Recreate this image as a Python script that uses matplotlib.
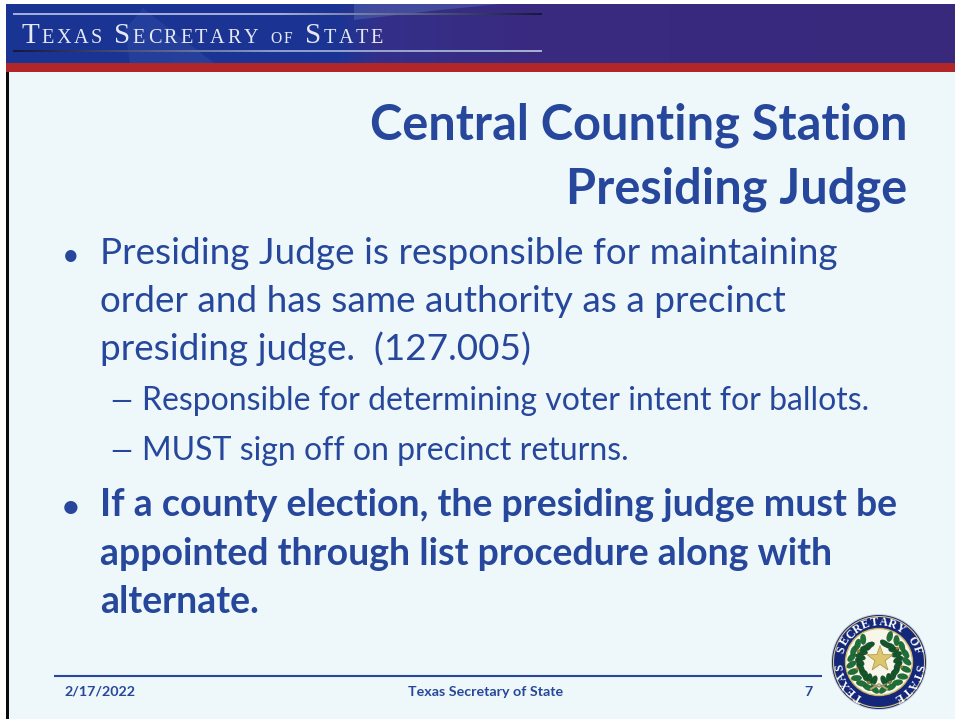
import numpy as np
import matplotlib
matplotlib.use("Agg")
import matplotlib.pyplot as plt
from matplotlib.patches import Circle, Ellipse, Polygon, Rectangle
from matplotlib.colors import LinearSegmentedColormap

title_lines = ["Central Counting Station", "Presiding Judge"]
bullet_one = ["Presiding Judge is responsible for maintaining",
              "order and has same authority as a precinct",
              "presiding judge.  (127.005)"]
sub_bullets = ["Responsible for determining voter intent for ballots.",
               "MUST sign off on precinct returns."]
bullet_two = ["If a county election, the presiding judge must be",
              "appointed through list procedure along with",
              "alternate."]
footer_date = "2/17/2022"
footer_name = "Texas Secretary of State"
footer_page = "7"
seal_text = "TEXAS SECRETARY OF STATE"

BG = "#eef8fb"
BLUE = "#26479b"
RED = "#b02629"
NAVY = "#14277a"
FONT = "Lato"

fig = plt.figure(figsize=(9.55, 7.19), dpi=100)
ax = fig.add_axes([0, 0, 1, 1])
ax.set_xlim(0, 955)
ax.set_ylim(719, 0)
ax.axis("off")


def header():
    cmap = LinearSegmentedColormap.from_list(
        "head", [(0, "#1a3494"), (0.35, "#1c3594"), (0.39, "#33308a"), (0.55, "#3a2a80"), (1, "#39297d")])
    grad = np.linspace(0, 1, 512).reshape(1, -1)
    ax.imshow(grad, cmap=cmap, extent=[6, 955, 63, 4], aspect="auto", zorder=1)
    ax.add_patch(Polygon([[354, 4], [500, 4], [440, 10], [354, 20]], fc="#5a77bd", alpha=0.4, lw=0, zorder=2))
    ax.add_patch(Polygon([[125, 30], [143, 8], [158, 20], [214, 63], [130, 63]], fc="#4f6db8", alpha=0.2, lw=0, zorder=2))
    ax.imshow(np.linspace(0, 1, 256).reshape(1, -1), cmap=LinearSegmentedColormap.from_list("r1", ["#9fb0d8", "#a5aed4", "#15183f"]),
              extent=[13, 541, 15, 13.5], aspect="auto", zorder=3)
    ax.imshow(np.linspace(0, 1, 256).reshape(1, -1), cmap=LinearSegmentedColormap.from_list("r2", ["#15183f", "#8c9ccc", "#a5aed4"]),
              extent=[13, 541, 52.5, 51], aspect="auto", zorder=3)
    ax.set_xlim(0, 955)
    ax.set_ylim(719, 0)
    ax.add_patch(Rectangle((6, 63), 949, 9, fc=RED, lw=0, zorder=3))


def small_caps(s, x, y):
    renderer = fig.canvas.get_renderer()
    for word in s.split(" "):
        for i, c in enumerate(word):
            size = 21 if i == 0 and word != "of" else 14.6
            if word == "of":
                size = 11.2
            t = ax.text(x, y, c.upper(), family="Liberation Serif", fontsize=size,
                        color="#e6e9f2", va="baseline", ha="left", zorder=4)
            x += t.get_window_extent(renderer).width + 2.6
        x += 9.5


def seal(cx, cy):
    ax.add_patch(Circle((cx, cy), 48, fc="#c9cfd8", lw=0, zorder=2))
    ax.add_patch(Circle((cx, cy), 47, fc=NAVY, lw=0, zorder=2))
    ax.add_patch(Circle((cx, cy), 45.5, fc="none", ec="#d9c77a", lw=0.8, zorder=3))
    ax.add_patch(Circle((cx, cy), 33.5, fc="#f7f6ea", ec="#cdb95f", lw=1.0, zorder=3))

    # ring lettering runs clockwise from lower left to lower right
    n = len(seal_text)
    angles = np.linspace(-150, 150, n)
    for c, a in zip(seal_text, angles):
        r = np.radians(a)
        ax.text(cx + 39.5 * np.sin(r), cy - 39.5 * np.cos(r), c, family="Liberation Serif", weight="bold",
                fontsize=8.6, color="white", ha="center", va="center", rotation=-a,
                rotation_mode="anchor", zorder=4)

    # wreath
    for side, top in ((-1, 32), (1, 20)):
        for k, a in enumerate(np.linspace(168, top, 10)):
            r = np.radians(a)
            for off in (-1, 1):
                rad = 23.5 + off * 4.2
                b = r + off * 0.05
                x = cx + side * rad * np.sin(b)
                y = cy - rad * np.cos(b)
                tilt = side * (-a + off * 35)
                ax.add_patch(Ellipse((x, y), 5.6, 10.5, angle=tilt,
                                     fc="#1f7038" if off > 0 else "#14552b", ec="#0d3a1c", lw=0.2, zorder=5))
            if k % 3 == 1:
                ax.add_patch(Circle((cx + side * 23 * np.sin(r), cy - 23 * np.cos(r)), 1.5, fc="#a67c24", lw=0, zorder=6))
    # ribbon
    ax.plot([cx - 8, cx, cx + 8], [cy + 27, cy + 22, cy + 27], color="#b9a66a", lw=1.4, zorder=6)
    ax.plot([cx - 7, cx, cx + 7], [cy + 22, cy + 25, cy + 22], color="#8f8a70", lw=1.0, zorder=6)

    # star
    sx, sy = cx + 1, cy - 3
    a = np.radians(np.arange(0, 360, 36))
    rr = np.where(np.arange(10) % 2 == 0, 13.5, 5.4)
    ax.add_patch(Polygon(np.c_[sx + rr * np.sin(a), sy - rr * np.cos(a)], fc="#dcc76f", ec="#a8913f", lw=0.5, zorder=7))


ax.add_patch(Rectangle((6, 4), 949, 715, fc=BG, lw=0, zorder=0))
ax.add_patch(Rectangle((6, 72), 2.6, 647, fc="#0a0a0a", lw=0, zorder=3))
header()
fig.canvas.draw()
small_caps("Texas Secretary of State", 21, 43)

for line, y in zip(title_lines, [139, 204]):
    ax.text(907, y, line, family=FONT, weight="bold", fontsize=35.1, color=BLUE, ha="right", va="baseline")

for line, y in zip(bullet_one, [264, 312, 360]):
    ax.text(100, y, line, family=FONT, fontsize=26.6, color=BLUE, va="baseline")
ax.text(71, 264.5, "\u2022", family=FONT, fontsize=22, color=BLUE, ha="center", va="baseline")

for line, y in zip(sub_bullets, [410, 460]):
    ax.text(142, y, line, family=FONT, fontsize=23, color=BLUE, va="baseline")
    ax.text(121, y, "\u2014", family=FONT, fontsize=20, color=BLUE, ha="center", va="baseline")

for line, y in zip(bullet_two, [516, 565, 613]):
    ax.text(100, y, line, family=FONT, weight="bold", fontsize=27, color=BLUE, va="baseline")
ax.text(71, 516.5, "\u2022", family=FONT, weight="bold", fontsize=22, color=BLUE, ha="center", va="baseline")

ax.plot([54, 822], [676, 676], color=BLUE, lw=1.5, solid_capstyle="butt")
ax.text(64, 696, footer_date, family=FONT, weight="bold", fontsize=10.3, color=BLUE, va="baseline")
ax.text(486, 696, footer_name, family=FONT, weight="bold", fontsize=10.3, color=BLUE, ha="center", va="baseline")
ax.text(808, 696, footer_page, family=FONT, weight="bold", fontsize=10.3, color=BLUE, ha="center", va="baseline")

seal(879, 662)
ax.set_xlim(0, 955)
ax.set_ylim(719, 0)

fig.savefig("out.png", dpi=100, facecolor="white")
